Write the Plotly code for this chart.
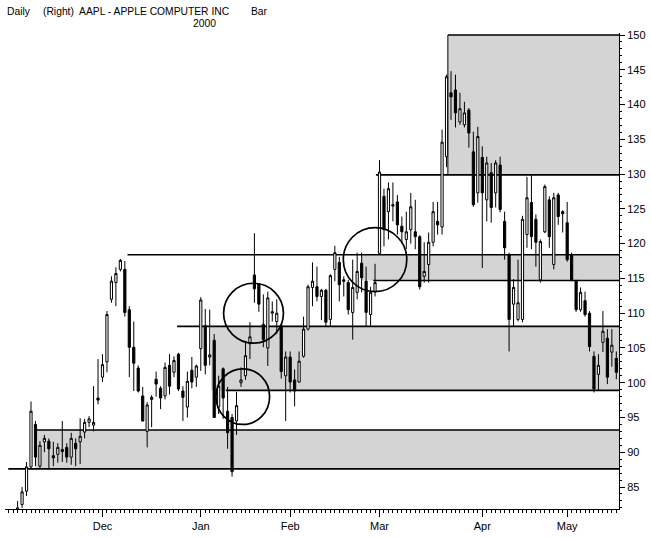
import pandas as pd
import plotly.graph_objects as go

# trading days (category axis: one slot per session)
holidays = ["1999-11-25", "1999-12-24", "2000-01-17", "2000-02-21", "2000-04-21"]
dates = [d for d in pd.bdate_range("1999-11-01", "2000-05-16") if d.strftime("%Y-%m-%d") not in holidays]

opens = [
    78.0, 79.5, 81.0, 82.5, 84.4, 87.9, 94.0, 88.0, 91.5, 91.6, 89.5, 89.7, 90.4, 90.7, 89.3, 91.3, 91.5, 92.9, 94.3, 93.9, 97.8,
    100.8, 103.0, 112.0, 114.4, 116.3, 116.3, 110.5, 105.1, 102.1, 98.1, 93.0, 97.6, 100.5, 99.2, 98.1, 102.5, 101.5, 104.1, 98.8, 96.5, 101.8, 100.8,
    104.9, 108.2, 103.7, 106.1, 96.5, 102.0, 95.9, 95.0, 94.5, 100.0, 101.0, 105.6, 115.5, 114.2, 108.4, 105.0, 110.0, 108.8, 108.2, 101.0,
    103.7, 100.4, 100.1, 103.8, 107.7, 113.7, 113.8, 112.4, 113.3, 109.1, 116.3, 117.3, 114.8, 114.4, 110.1, 113.0, 117.2, 114.6, 109.8, 113.1,
    118.6, 126.8, 124.6, 125.4, 126.0, 122.5, 120.6, 122.0, 121.7, 121.0, 115.3, 117.0, 120.2, 123.2, 122.4, 132.5, 141.7, 142.1, 137.5, 137.1, 139.2, 133.2, 127.3,
    132.4, 126.3, 130.2, 127.3, 131.3, 123.2, 118.4, 111.3, 109.1, 109.1, 121.3, 125.9, 123.5, 114.8, 121.7, 126.3, 117.0, 127.0, 124.6,
    123.0, 118.4, 114.6, 110.5, 111.8, 110.0, 103.8, 101.2, 105.8, 106.4, 104.4, 103.5,
]
highs = [
    79.5, 80.5, 83.0, 85.0, 88.6, 97.3, 94.5, 91.6, 92.5, 92.0, 91.5, 91.3, 94.5, 91.3, 92.8, 92.0, 94.9, 94.8, 95.2, 99.5, 103.4,
    104.1, 110.3, 115.3, 116.6, 117.8, 117.5, 111.0, 108.8, 102.5, 99.4, 97.2, 98.2, 101.6, 99.5, 102.9, 104.1, 103.8, 104.3, 99.5, 101.6, 103.7, 102.6,
    112.3, 110.6, 110.5, 107.0, 101.0, 102.2, 99.4, 95.5, 98.7, 102.2, 106.0, 108.7, 121.5, 114.2, 112.7, 113.1, 111.7, 112.0, 108.5, 104.5,
    104.5, 101.9, 104.5, 109.5, 114.1, 117.3, 116.7, 113.5, 113.5, 115.6, 119.7, 118.1, 115.3, 114.8, 117.7, 118.7, 118.7, 116.7, 113.8, 117.1,
    132.0, 127.9, 128.8, 128.8, 127.0, 123.9, 124.6, 127.3, 126.3, 121.2, 120.2, 121.6, 126.0, 126.0, 136.4, 144.3, 144.8, 144.3, 141.7, 140.4, 139.5, 136.1, 136.8,
    134.0, 132.5, 131.6, 132.0, 132.5, 124.6, 118.7, 114.9, 117.7, 124.0, 129.6, 129.9, 124.2, 120.6, 128.5, 126.8, 127.3, 127.3, 124.8,
    126.0, 118.7, 114.8, 113.7, 113.1, 110.3, 104.5, 104.1, 110.3, 107.7, 107.7, 104.5,
]
lows = [
    76.5, 78.0, 80.0, 82.0, 83.7, 87.6, 88.0, 87.6, 90.0, 87.5, 88.0, 88.5, 88.6, 88.5, 88.2, 88.0, 88.3, 92.0, 93.6, 93.0, 96.9,
    100.1, 101.5, 111.5, 111.0, 116.0, 109.5, 100.8, 98.8, 98.6, 94.4, 90.7, 93.6, 98.0, 96.2, 97.6, 98.3, 100.8, 98.8, 94.5, 95.0, 99.2, 99.4,
    101.7, 101.2, 102.5, 95.0, 95.5, 94.8, 90.5, 86.5, 92.5, 99.4, 100.4, 103.4, 111.5, 110.2, 105.1, 102.4, 108.8, 107.0, 100.6, 94.5,
    98.6, 96.6, 100.0, 103.6, 107.5, 111.0, 111.7, 109.0, 108.1, 108.1, 114.6, 111.7, 112.4, 109.8, 106.2, 112.0, 113.0, 108.1, 108.1, 112.4,
    118.5, 119.6, 120.6, 123.2, 121.3, 120.0, 119.2, 120.0, 119.2, 113.4, 114.4, 114.4, 119.6, 121.3, 121.3, 131.0, 137.8, 136.7, 137.1, 136.7, 133.8, 125.3, 125.9,
    116.5, 123.2, 123.0, 125.2, 124.5, 117.7, 104.5, 108.1, 108.8, 108.7, 119.4, 119.2, 116.7, 114.4, 121.5, 119.4, 116.3, 122.7, 121.6,
    117.4, 114.6, 110.2, 110.2, 109.5, 104.5, 98.6, 98.8, 104.4, 99.8, 102.3, 100.5,
]
closes = [
    79.0, 80.5, 82.0, 84.3, 87.9, 95.9, 89.3, 91.0, 92.0, 90.5, 89.2, 90.7, 90.1, 89.3, 92.0, 90.5, 92.3, 94.3, 94.8, 94.3, 97.5,
    102.6, 109.8, 114.6, 115.7, 117.6, 110.1, 105.1, 102.8, 98.8, 94.5, 96.8, 97.9, 99.8, 97.8, 102.2, 99.5, 103.2, 99.1, 97.9, 100.2, 100.1, 102.4,
    111.9, 102.5, 104.0, 95.0, 99.5, 97.8, 92.8, 87.2, 96.7, 100.4, 103.9, 106.6, 113.5, 111.3, 106.2, 112.2, 110.2, 110.0, 101.6, 103.7,
    100.1, 98.8, 103.1, 107.7, 113.8, 114.6, 112.4, 113.3, 108.7, 115.4, 118.7, 114.1, 114.6, 110.5, 113.7, 116.0, 115.1, 110.1, 113.0, 114.4,
    130.3, 122.0, 127.9, 125.6, 122.7, 121.7, 121.7, 125.3, 121.0, 113.8, 116.0, 120.2, 124.6, 122.7, 134.6, 144.0, 141.1, 138.8, 139.4, 138.8, 135.9, 125.6, 135.4,
    127.3, 131.6, 125.2, 131.6, 124.9, 119.4, 109.1, 113.7, 111.5, 123.5, 126.6, 121.0, 120.2, 120.3, 128.2, 121.0, 126.6, 123.9, 124.3,
    117.7, 114.8, 110.5, 113.0, 109.8, 105.2, 99.1, 102.5, 107.4, 100.8, 105.4, 101.5,
]

month_labels = ["Dec", "Jan", "Feb", "Mar", "Apr", "May"]
price_ticks = list(range(85, 151, 5))

# support/resistance zones: (level, start slot)
zone_lines = [(87.6, -0.1), (93.2, 5.9), (98.9, 48.6), (108.1, 37.7),
              (114.7, 81.6), (118.4, 26.6), (129.9, 82.2), (150.0, 98.3)]
zone_fills = [(87.6, 93.2, 6.0), (98.9, 108.1, 45.3), (114.7, 118.4, 78.9), (129.9, 150.0, 98.3)]
circles = [(54.8, 110.0, 6.7, 4.3), (52.4, 98.0, 6.0, 4.0), (82.0, 117.7, 7.1, 4.6)]

idx = list(range(len(dates)))
month_pos = [i for i in range(1, len(dates)) if dates[i].month != dates[i - 1].month]

X0, X1 = -0.82, 136.6
Y0, Y1 = 81.84, 150.29

fig = go.Figure()
fig.add_trace(go.Candlestick(
    x=idx, open=opens, high=highs, low=lows, close=closes,
    increasing=dict(line=dict(color="black", width=1), fillcolor="white"),
    decreasing=dict(line=dict(color="black", width=1), fillcolor="black"),
    whiskerwidth=0, showlegend=False, hoverinfo="skip",
))

shapes = []
for lo, hi, xs in zone_fills:
    shapes.append(dict(type="rect", xref="x", yref="y", x0=xs, x1=X1, y0=lo, y1=hi,
                       fillcolor="#d4d4d4", line=dict(width=0), layer="below"))
for lvl, xs in zone_lines:
    shapes.append(dict(type="line", xref="x", yref="y", x0=xs, x1=X1, y0=lvl, y1=lvl,
                       line=dict(color="black", width=1.7), layer="below"))
shapes.append(dict(type="line", xref="x", yref="y", x0=98.3, x1=98.3, y0=129.9, y1=150.0,
                   line=dict(color="black", width=1), layer="below"))
for cx, cy, rx, ry in circles:
    shapes.append(dict(type="circle", xref="x", yref="y", x0=cx - rx, x1=cx + rx, y0=cy - ry, y1=cy + ry,
                       line=dict(color="black", width=1.7), layer="above"))

font = dict(family="Arial, Liberation Sans, sans-serif", size=11, color="black")
tfont = dict(family="Arial, Liberation Sans, sans-serif", size=10.3, color="black")
ph = 537 - 33 - 27
ann = [
    dict(text="Daily", x=0, y=(510 - 11) / ph, xref="paper", yref="paper", xanchor="left", yanchor="middle",
         showarrow=False, font=tfont),
    dict(text="(Right)  AAPL - APPLE COMPUTER INC", x=(41 - 5) / 617, y=(510 - 11) / ph, xref="paper", yref="paper",
         xanchor="left", yanchor="middle", showarrow=False, font=tfont),
    dict(text="Bar", x=(250 - 5) / 617, y=(510 - 11) / ph, xref="paper", yref="paper", xanchor="left",
         yanchor="middle", showarrow=False, font=tfont),
    dict(text="2000", x=(219 - 5) / 617, y=(510 - 23) / ph, xref="paper", yref="paper", xanchor="right",
         yanchor="middle", showarrow=False, font=tfont),
]

fig.update_layout(
    width=651, height=537,
    margin=dict(l=5, r=29, t=33, b=27),
    paper_bgcolor="white", plot_bgcolor="white",
    shapes=shapes, annotations=ann, font=font,
    xaxis=dict(range=[X0, X1], showgrid=False, zeroline=False, showline=True, linecolor="black", linewidth=1,
               ticks="outside", ticklen=7, tickcolor="black", tickvals=month_pos, ticktext=month_labels,
               tickfont=font, rangeslider=dict(visible=False),
               minor=dict(ticks="outside", ticklen=3, tickcolor="black", tick0=0, dtick=1, showgrid=False)),
    yaxis=dict(range=[Y0, Y1], side="right", showgrid=False, zeroline=False, showline=True, linecolor="black",
               linewidth=1, ticks="outside", ticklen=5, tickcolor="black", tickvals=price_ticks, tickfont=font,
               minor=dict(ticks="outside", ticklen=2, tickcolor="black", dtick=1, tick0=0, showgrid=False)),
)

fig.write_html("out.html", config={"displayModeBar": False},
               post_script="document.body.style.margin='0px';document.body.style.overflow='hidden';")
